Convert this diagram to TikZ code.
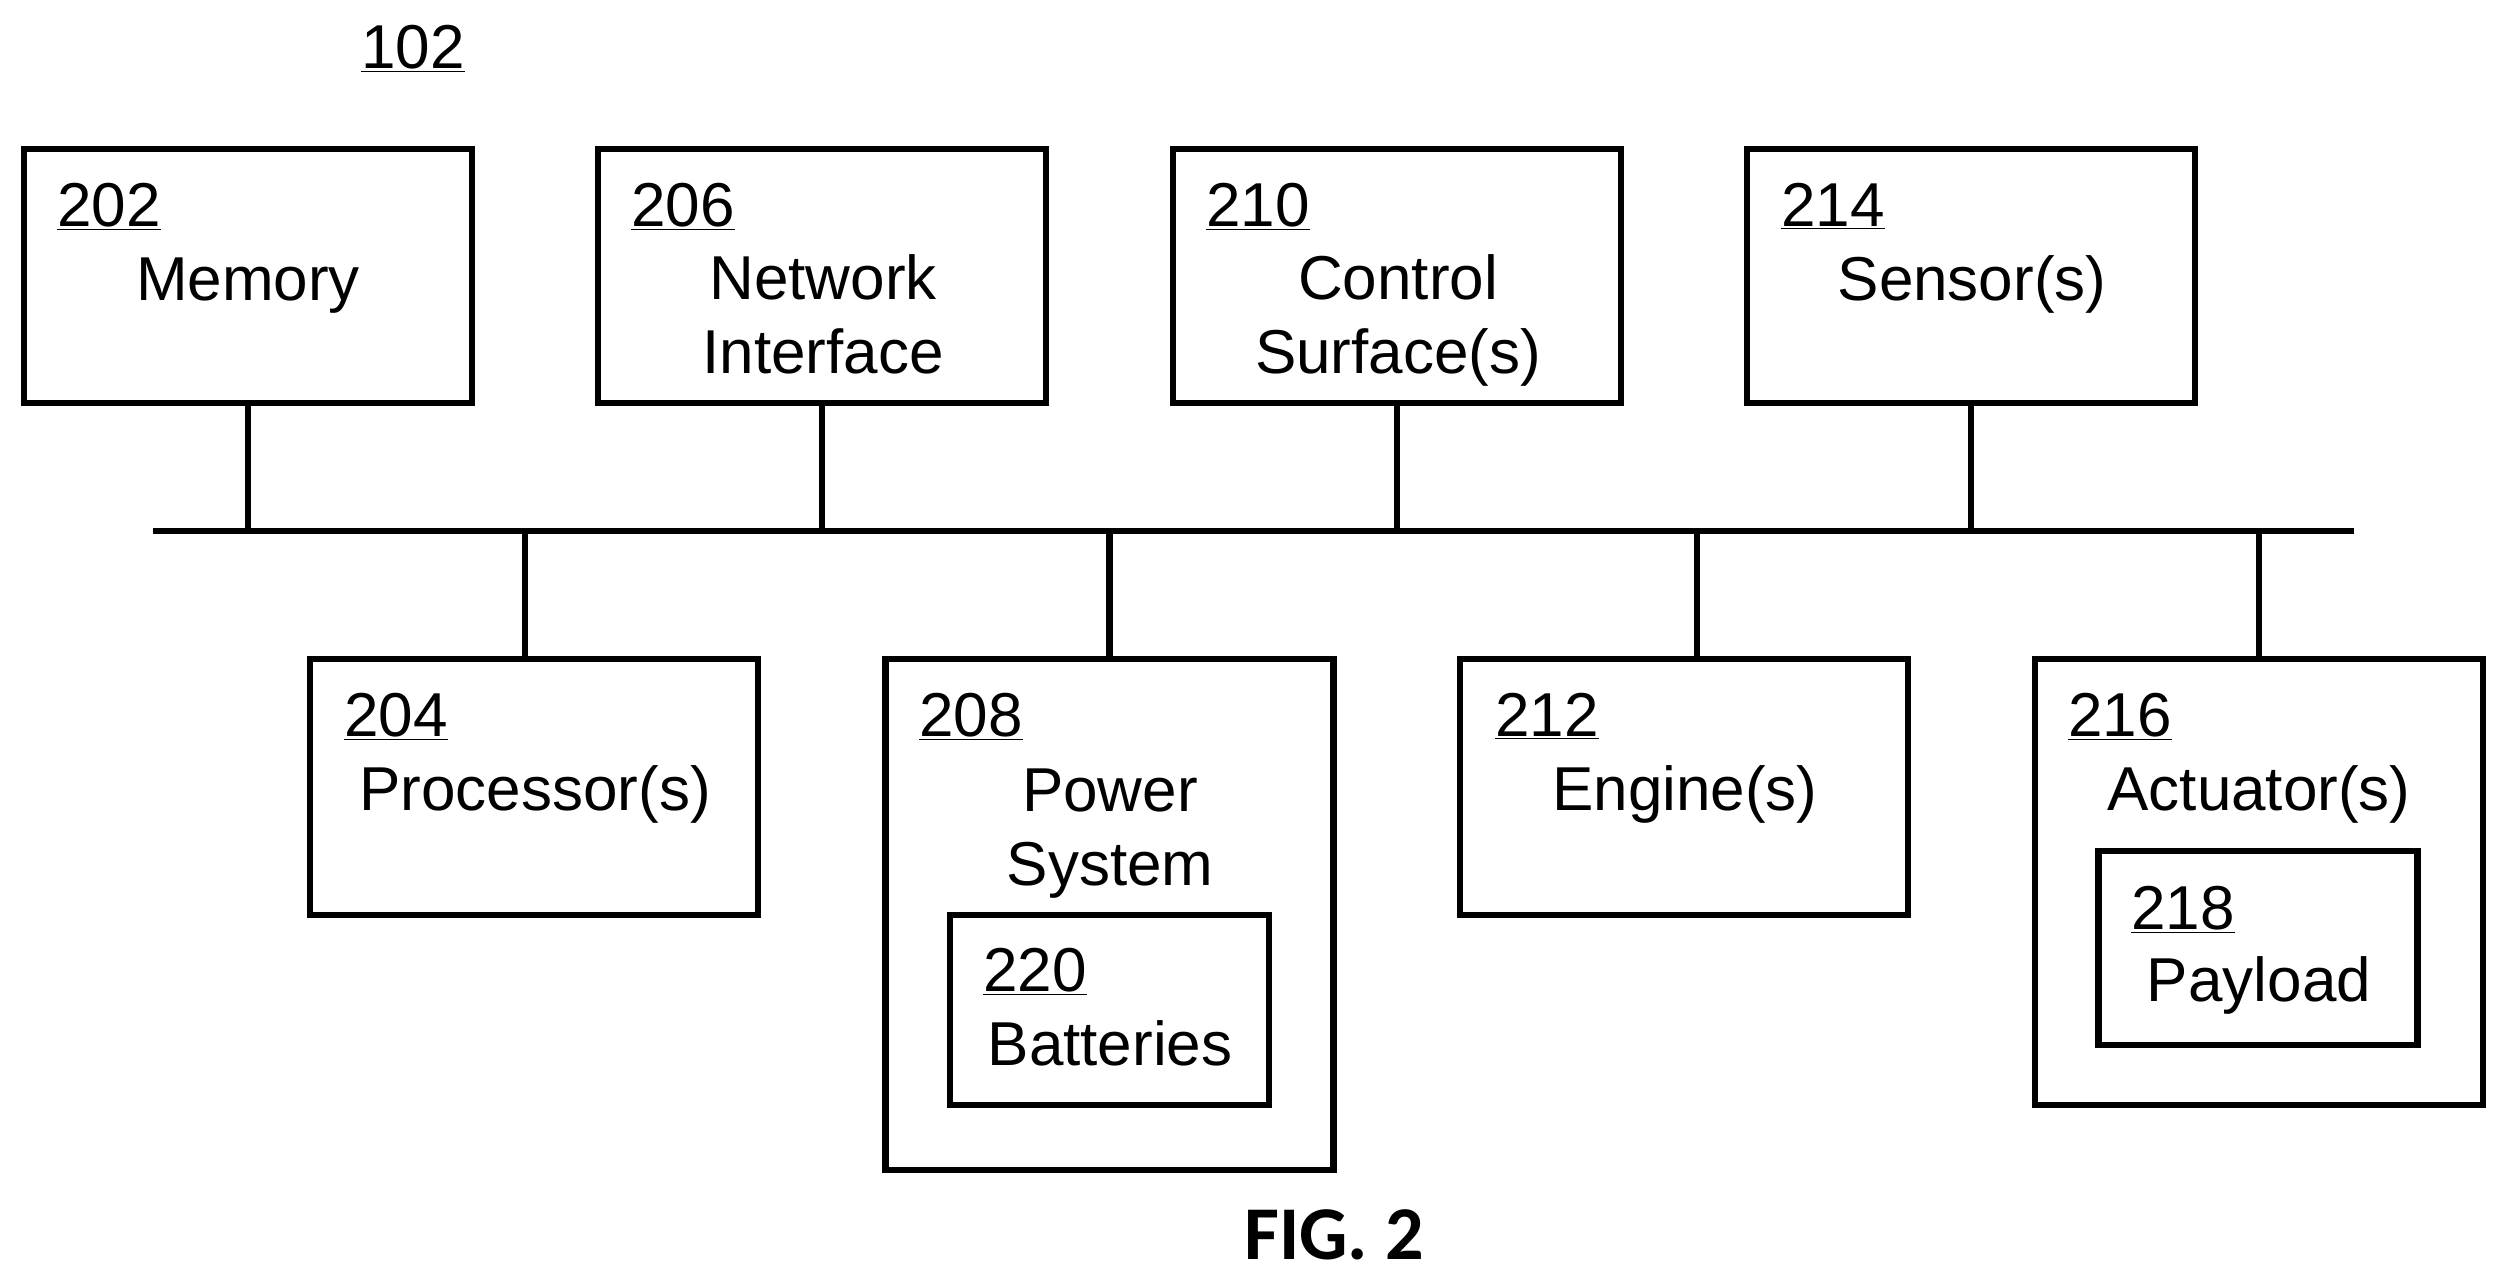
\documentclass[tikz,border=0pt]{standalone}
\usepackage{fontspec}
\setmainfont{Liberation Sans}
\newfontfamily\figfont{Carlito}
\tikzset{
  blockbox/.style={draw=black,line width=3.2pt,rectangle,inner sep=0pt,fill=white},
  blocktext/.style={anchor=base,inner sep=0pt,align=center,font=\fontsize{31}{37}\selectfont},
  refnum/.style={anchor=base west,inner sep=0pt,font=\fontsize{31}{37}\selectfont},
  busline/.style={draw=black,line width=3.2pt}
}
\begin{document}
\begin{tikzpicture}[x=0.5pt,y=-0.5pt]
      \useasboundingbox (0,0) rectangle (2506,1281);
      % Drawing boxes, top row
      \node[blockbox,minimum width=224pt,minimum height=127pt] (memory) at (248,276) {};
      \node[blockbox,minimum width=224pt,minimum height=127pt] (network) at (822,276) {};
      \node[blockbox,minimum width=224pt,minimum height=127pt] (control) at (1397,276) {};
      \node[blockbox,minimum width=224pt,minimum height=127pt] (sensor) at (1971,276) {};
      % Bottom row
      \node[blockbox,minimum width=224pt,minimum height=128pt] (processor) at (534,787) {};
      \node[blockbox,minimum width=224pt,minimum height=255.5pt] (power) at (1109.5,914.5) {};
      \node[blockbox,minimum width=224pt,minimum height=128pt] (engine) at (1684,787) {};
      \node[blockbox,minimum width=224pt,minimum height=223pt] (actuator) at (2259,882) {};
      % Inner boxes
      \node[blockbox,minimum width=159.5pt,minimum height=95pt] (batteries) at (1109.5,1010) {};
      \node[blockbox,minimum width=159.5pt,minimum height=97pt] (payload) at (2258,948) {};
      % Done with boxes; drawing the bus
      \coordinate (busleft) at (153,531);
      \coordinate (busright) at (2354,531);
      \draw[busline] (busleft) -- (busright);
      \coordinate (tapproc) at (525,531);
      \coordinate (tapengine) at (1697,531);
      \draw[busline] (memory.south) -- (memory.south |- busleft);
      \draw[busline] (network.south) -- (network.south |- busleft);
      \draw[busline] (control.south) -- (control.south |- busleft);
      \draw[busline] (sensor.south) -- (sensor.south |- busleft);
      \draw[busline] (tapproc) -- (tapproc |- processor.north);
      \draw[busline] (power.north) -- (power.north |- busleft);
      \draw[busline] (tapengine) -- (tapengine |- engine.north);
      \draw[busline] (actuator.north) -- (actuator.north |- busleft);
      % Done with bus; drawing labels
      \node[refnum] (num102) at (361,68) {\underline{102}};
      \node[refnum] (num202) at (57,226) {\underline{202}};
      \node[refnum] (num206) at (631,226) {\underline{206}};
      \node[refnum] (num210) at (1206,226) {\underline{210}};
      \node[refnum] (num214) at (1781,226) {\underline{214}};
      \node[refnum] (num204) at (344,736) {\underline{204}};
      \node[refnum] (num208) at (919,736) {\underline{208}};
      \node[refnum] (num212) at (1495,736) {\underline{212}};
      \node[refnum] (num216) at (2068,736) {\underline{216}};
      \node[refnum] (num220) at (983,991) {\underline{220}};
      \node[refnum] (num218) at (2131,929) {\underline{218}};
      \node[blocktext] (txtmemory) at (248,300) {Memory};
      \node[blocktext] (txtnetwork) at (823,373.5) {Network\\Interface};
      \node[blocktext] (txtcontrol) at (1398,373.5) {Control\\Surface(s)};
      \node[blocktext] (txtsensor) at (1972,300) {Sensor(s)};
      \node[blocktext] (txtprocessor) at (535,810) {Processor(s)};
      \node[blocktext] (txtpower) at (1110,885) {Power\\System};
      \node[blocktext] (txtengine) at (1685,810) {Engine(s)};
      \node[blocktext] (txtactuator) at (2259,810) {Actuator(s)};
      \node[blocktext] (txtbatteries) at (1110,1065) {Batteries};
      \node[blocktext] (txtpayload) at (2259,1001) {Payload};
      % Done with labels; caption
      \node[anchor=base,inner sep=0pt,font=\figfont\bfseries\fontsize{38}{44}\selectfont] (caption) at (1334,1259) {FIG. 2};
\end{tikzpicture}
\end{document}
